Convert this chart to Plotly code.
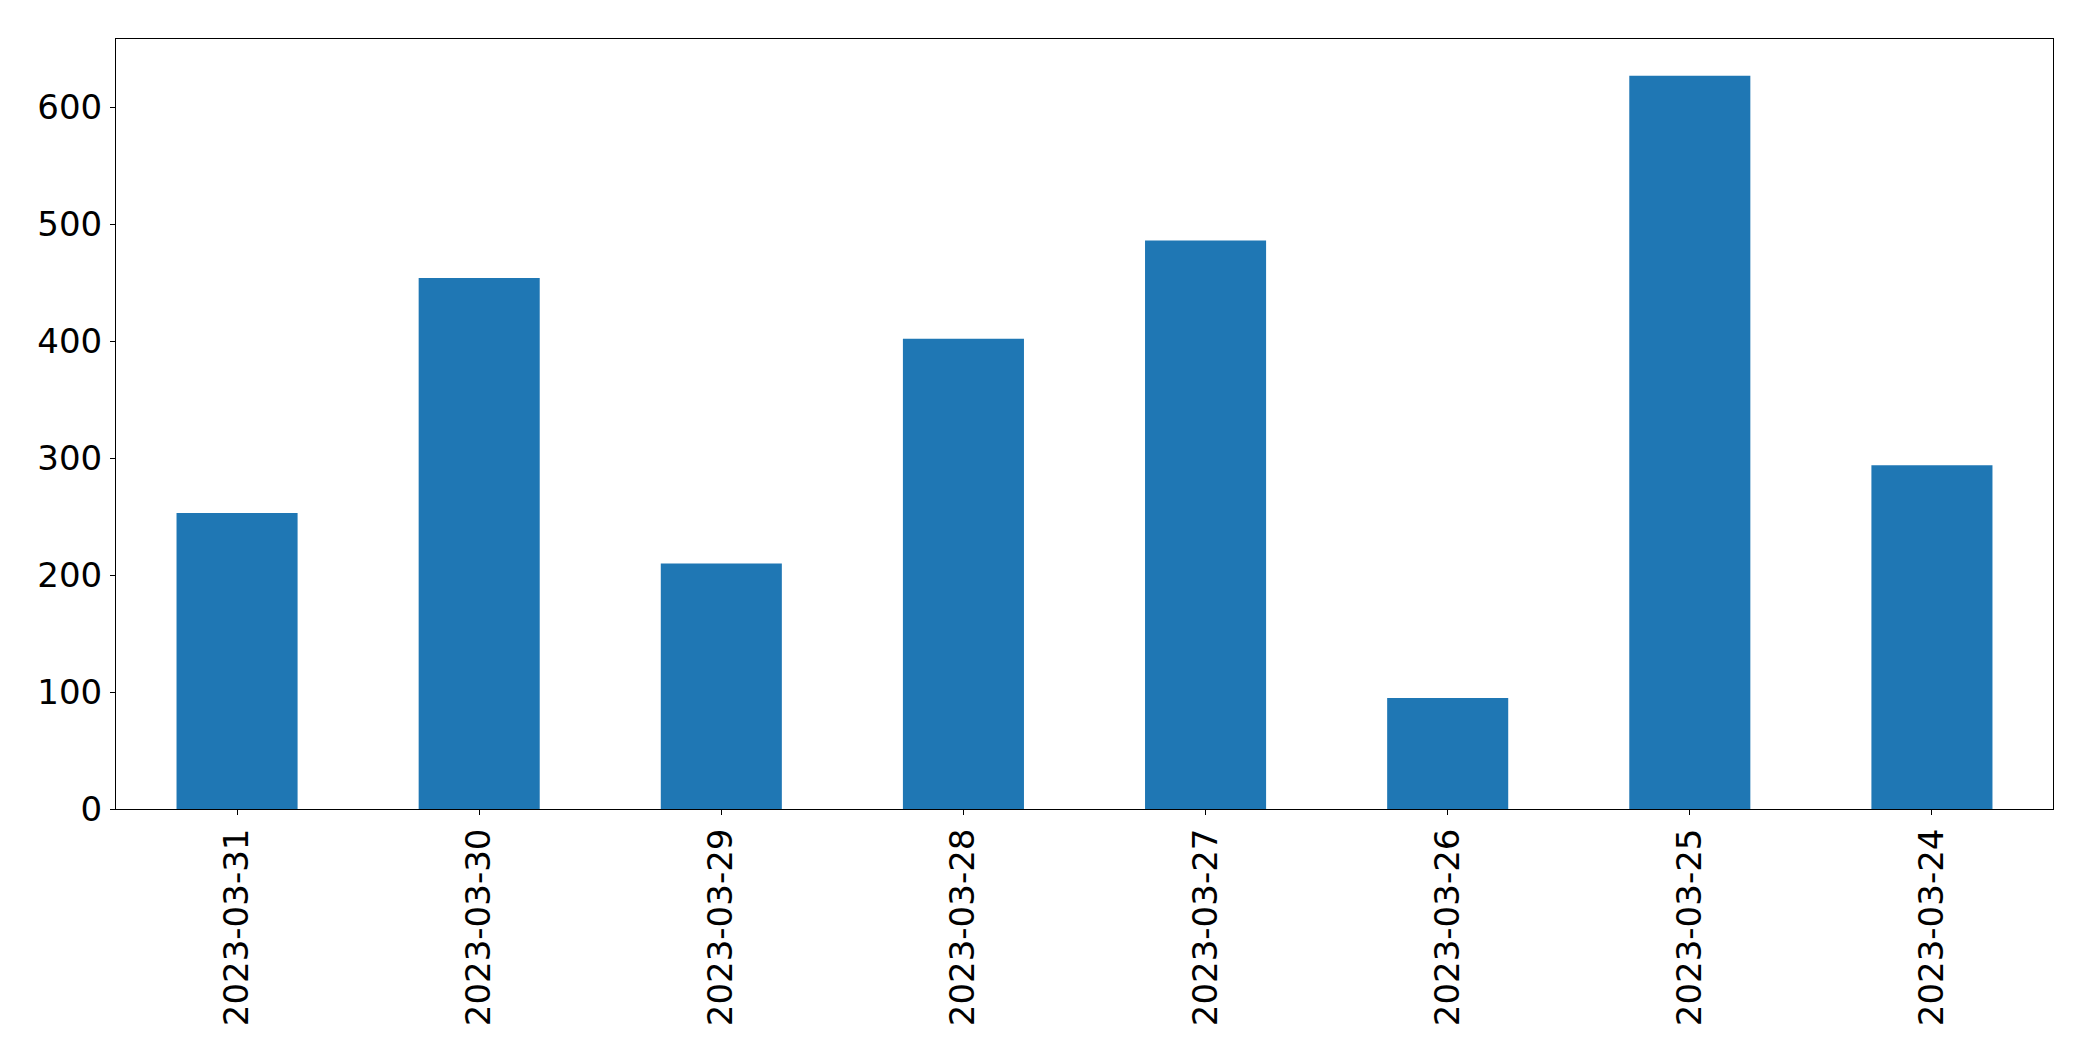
import plotly.graph_objects as go

dates = ["2023-03-31", "2023-03-30", "2023-03-29", "2023-03-28",
         "2023-03-27", "2023-03-26", "2023-03-25", "2023-03-24"]
values = [253, 454, 210, 402, 486, 95, 627, 294]

fig = go.Figure(go.Bar(x=dates, y=values, marker=dict(color="#1f77b4", line=dict(width=0))))

fig.update_layout(
    width=2085, height=1053,
    margin=dict(l=108, r=40, t=31, b=252),
    paper_bgcolor="white", plot_bgcolor="white",
    bargap=0.5, showlegend=False,
    font=dict(family="DejaVu Sans", size=34, color="black"),
)
fig.update_xaxes(
    type="category", range=[-0.5, 7.5], tickangle=-90,
    showline=True, linecolor="black", linewidth=1, mirror=True,
    ticks="outside", ticklen=5, tickcolor="black", tickwidth=1,
    showgrid=False, zeroline=False, ticklabelstandoff=0,
)
fig.update_yaxes(
    range=[0, 658.4], tickvals=[0, 100, 200, 300, 400, 500, 600],
    showline=True, linecolor="black", linewidth=1, mirror=True,
    ticks="outside", ticklen=5, tickcolor="black", tickwidth=1,
    showgrid=False, zeroline=False, ticklabelstandoff=1,
)
fig.write_html("out.html")
